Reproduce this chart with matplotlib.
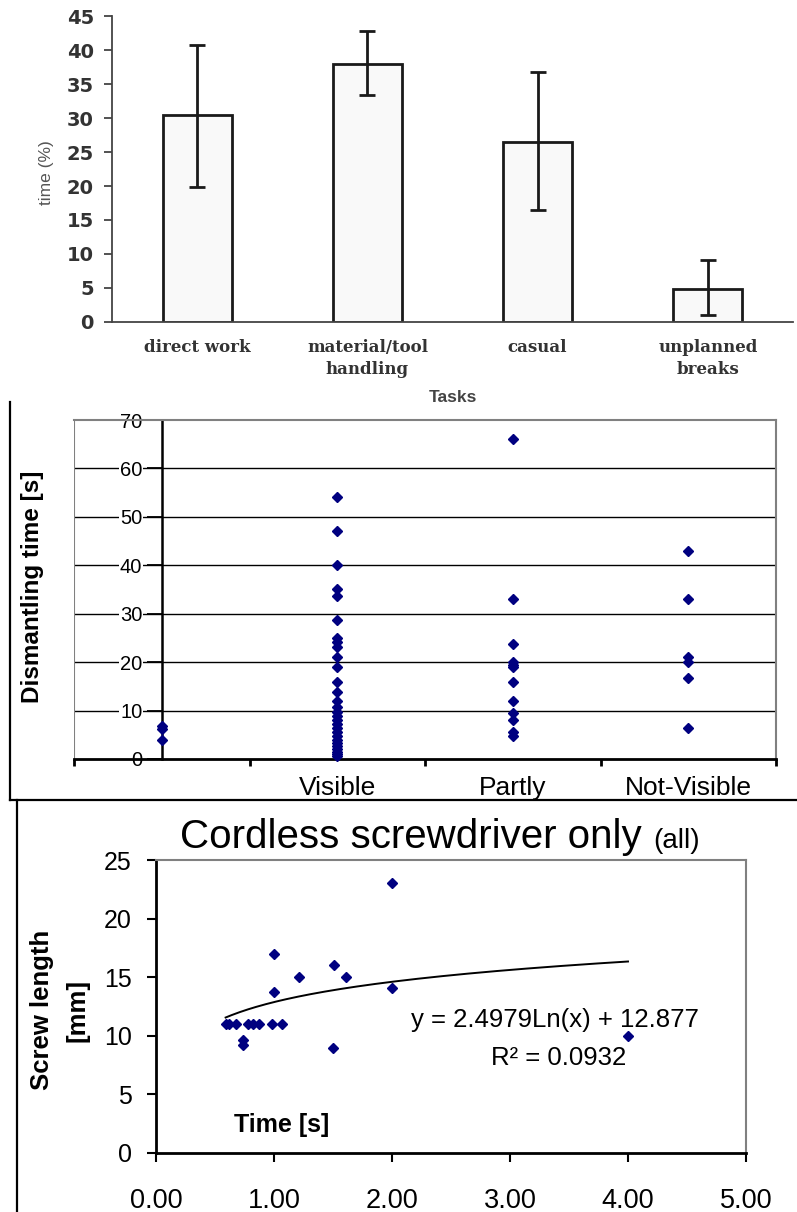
import numpy as np
import matplotlib
matplotlib.use("Agg")
import matplotlib.pyplot as plt
from matplotlib.lines import Line2D

plt.rcParams['font.family'] = ['Liberation Sans', 'DejaVu Sans']

# ---------------- data ----------------
# Panel 1: share of time per task
tasks = ["direct work", "material/tool\nhandling", "casual", "unplanned\nbreaks"]
time_pct = [30.5, 38.0, 26.4, 4.9]
time_err_low = [19.8, 33.4, 16.4, 1.0]
time_err_high = [40.8, 42.8, 36.7, 9.1]
pct_ticks = [0, 5, 10, 15, 20, 25, 30, 35, 40, 45]

# Panel 2: dismantling time by visibility
visibility = ["", "Visible", "Partly", "Not-Visible"]
dism_unlabeled = [6.9, 6.2, 4.0]
dism_visible = [54, 47, 40, 35.1, 33.7, 28.7, 24.9, 24.1, 23.1, 21.0, 18.9, 16.0,
                13.9, 11.9, 10.8, 9.8, 8.8, 8.0, 7.2, 6.4, 5.6, 4.8, 4.0, 3.3,
                2.6, 2.0, 1.5, 1.0, 0.6]
dism_partly = [66, 33, 23.8, 20.1, 19.4, 19.0, 15.9, 11.9, 9.5, 8.1, 5.5, 4.8]
dism_notvisible = [43, 33, 21.0, 20.0, 16.8, 6.5]
dism_ticks = [0, 10, 20, 30, 40, 50, 60, 70]

# Panel 3: screw length vs time (cordless screwdriver)
screw_time = [0.59, 0.62, 0.68, 0.78, 0.82, 0.87, 0.98, 1.07, 0.74, 0.74,
              1.00, 1.00, 1.21, 1.51, 1.61, 1.50, 2.00, 2.00, 4.00]
screw_length = [11, 11, 11, 11, 11, 11, 11, 11, 9.6, 9.2,
                17, 13.7, 15, 16, 15, 9.0, 23, 14.1, 10]
trend_slope = 2.4979
trend_intercept = 12.877
trend_r2 = 0.0932
time_ticks = [0, 1, 2, 3, 4, 5]
length_ticks = [0, 5, 10, 15, 20, 25]

# ---------------- layout helpers ----------------
W, H = 797, 1212
fig = plt.figure(figsize=(W / 100, H / 100), dpi=100)
fig.patch.set_facecolor('white')


def box(l, t, r, b):
    return [l / W, 1 - b / H, (r - l) / W, (b - t) / H]


def fx(x):
    return x / W


def fy(y):
    return 1 - y / H


# ---------------- panel 1 ----------------
ax1 = fig.add_axes(box(112, 16, 793, 322))
pos = np.arange(len(tasks))
means = np.array(time_pct)
yerr = [means - np.array(time_err_low), np.array(time_err_high) - means]
ax1.bar(pos, means, width=0.405, color='#f9f9f9', edgecolor='#1a1a1a',
        linewidth=2.0, zorder=2)
ax1.errorbar(pos, means, yerr=yerr, fmt='none', ecolor='#1a1a1a',
             elinewidth=2.0, capsize=6, capthick=2.0, zorder=3)
ax1.set_xlim(-0.5, 3.5)
ax1.set_ylim(0, 45)
ax1.set_yticks(pct_ticks)
ax1.set_xticks(pos)
ax1.set_xticklabels(tasks, fontfamily='DejaVu Serif', fontweight='bold',
                    fontsize=12, color='#333333', linespacing=1.4)
ax1.tick_params(axis='x', length=0, pad=12)
ax1.tick_params(axis='y', length=6, width=1.3, color='#444444', pad=7,
                labelcolor='#333333')
for lbl in ax1.get_yticklabels():
    lbl.set_fontweight('bold')
    lbl.set_fontfamily('DejaVu Sans')
    lbl.set_fontsize(14)
for s in ['top', 'right']:
    ax1.spines[s].set_visible(False)
for s in ['left', 'bottom']:
    ax1.spines[s].set_color('#444444')
    ax1.spines[s].set_linewidth(1.3)
fig.text(fx(46), fy(173), "time (%)", rotation=90, ha='center', va='center',
         fontsize=12.5, color='#555555')
fig.text(fx(453), fy(398), "Tasks", ha='center', va='center', fontsize=12.5,
         fontweight='bold', color='#444444')

# ---------------- panel 2 ----------------
ax2 = fig.add_axes(box(74, 420, 776, 759))
ax2.set_xlim(-0.5, 3.5)
ax2.set_ylim(0, 70)
for i, vals in enumerate([dism_unlabeled, dism_visible, dism_partly, dism_notvisible]):
    ax2.plot(np.full(len(vals), i), vals, linestyle='none', marker='D', ms=4.9,
             color='#000080', zorder=4, clip_on=False)
ax2.hlines(dism_ticks[1:-1], -0.5, 3.5, color='black', lw=1.0, zorder=1)
ax2.axvline(-0.5, color='#808080', lw=1.5, zorder=1)
ax2.spines['left'].set_position(('data', 0))
ax2.spines['left'].set_linewidth(1.8)
ax2.spines['left'].set_color('black')
ax2.spines['bottom'].set_linewidth(2.0)
ax2.spines['bottom'].set_color('black')
for s in ['top', 'right']:
    ax2.spines[s].set_color('#808080')
    ax2.spines[s].set_linewidth(1.5)
ax2.set_yticks(dism_ticks)
ax2.tick_params(axis='y', length=11, width=1.3, pad=3, labelsize=14.5)
for lbl in ax2.get_yticklabels():
    lbl.set_bbox(dict(facecolor='white', edgecolor='none', pad=0.5))
ax2.set_xticks([-0.5, 0.5, 1.5, 2.5, 3.5])
ax2.set_xticklabels([])
ax2.set_xticks(range(len(visibility)), visibility, minor=True)
ax2.tick_params(axis='x', which='major', length=5, width=2)
ax2.tick_params(axis='x', which='minor', length=0, pad=12, labelsize=19)
fig.text(fx(33), fy(587), "Dismantling time [s]", rotation=90, ha='center',
         va='center', fontsize=17.5, fontweight='bold')

# frame lines between the pasted panels
for xs, ys in [((10, 10), (402, 800)), ((10, 797), (800, 800)), ((17, 17), (800, 1212))]:
    fig.add_artist(Line2D([fx(xs[0]), fx(xs[1])], [fy(ys[0]), fy(ys[1])],
                          transform=fig.transFigure, color='black', lw=1.6))

# ---------------- panel 3 ----------------
ax3 = fig.add_axes(box(156, 860, 746, 1153))
ax3.set_xlim(0, 5)
ax3.set_ylim(0, 25)
ax3.plot(screw_time, screw_length, linestyle='none', marker='D', ms=4.9,
         color='#000080', zorder=4)
tx = np.linspace(min(screw_time), max(screw_time), 200)
ax3.plot(tx, trend_slope * np.log(tx) + trend_intercept, color='black', lw=1.4, zorder=3)
ax3.set_xticks(time_ticks)
ax3.set_xticklabels([f"{t:.2f}" for t in time_ticks])
ax3.set_yticks(length_ticks)
ax3.tick_params(axis='both', length=6.5, width=1.5, labelsize=18)
ax3.tick_params(axis='x', labelsize=19.5)
ax3.tick_params(axis='y', pad=11)
ax3.tick_params(axis='x', pad=19)
for s in ['left', 'bottom']:
    ax3.spines[s].set_linewidth(2.0)
    ax3.spines[s].set_color('black')
for s in ['top', 'right']:
    ax3.spines[s].set_color('#808080')
    ax3.spines[s].set_linewidth(1.5)
fig.text(fx(180), fy(848), "Cordless screwdriver only", fontsize=29, va='baseline')
fig.text(fx(653), fy(848), "(all)", fontsize=20, va='baseline')
fig.text(fx(60), fy(1010), "Screw length\n[mm]", rotation=90, ha='center',
         va='center', fontsize=18.5, fontweight='bold', linespacing=1.6)
fig.text(fx(282), fy(1125), "Time [s]", ha='center', va='center', fontsize=18,
         fontweight='bold')
fig.text(fx(555), fy(1020), f"y = {trend_slope:.4f}Ln(x) + {trend_intercept:.3f}",
         ha='center', va='center', fontsize=18.5)
fig.text(fx(559), fy(1058), f"R\u00b2 = {trend_r2:.4f}", ha='center', va='center',
         fontsize=18.5)

fig.savefig("out.png", dpi=100, facecolor='white')
